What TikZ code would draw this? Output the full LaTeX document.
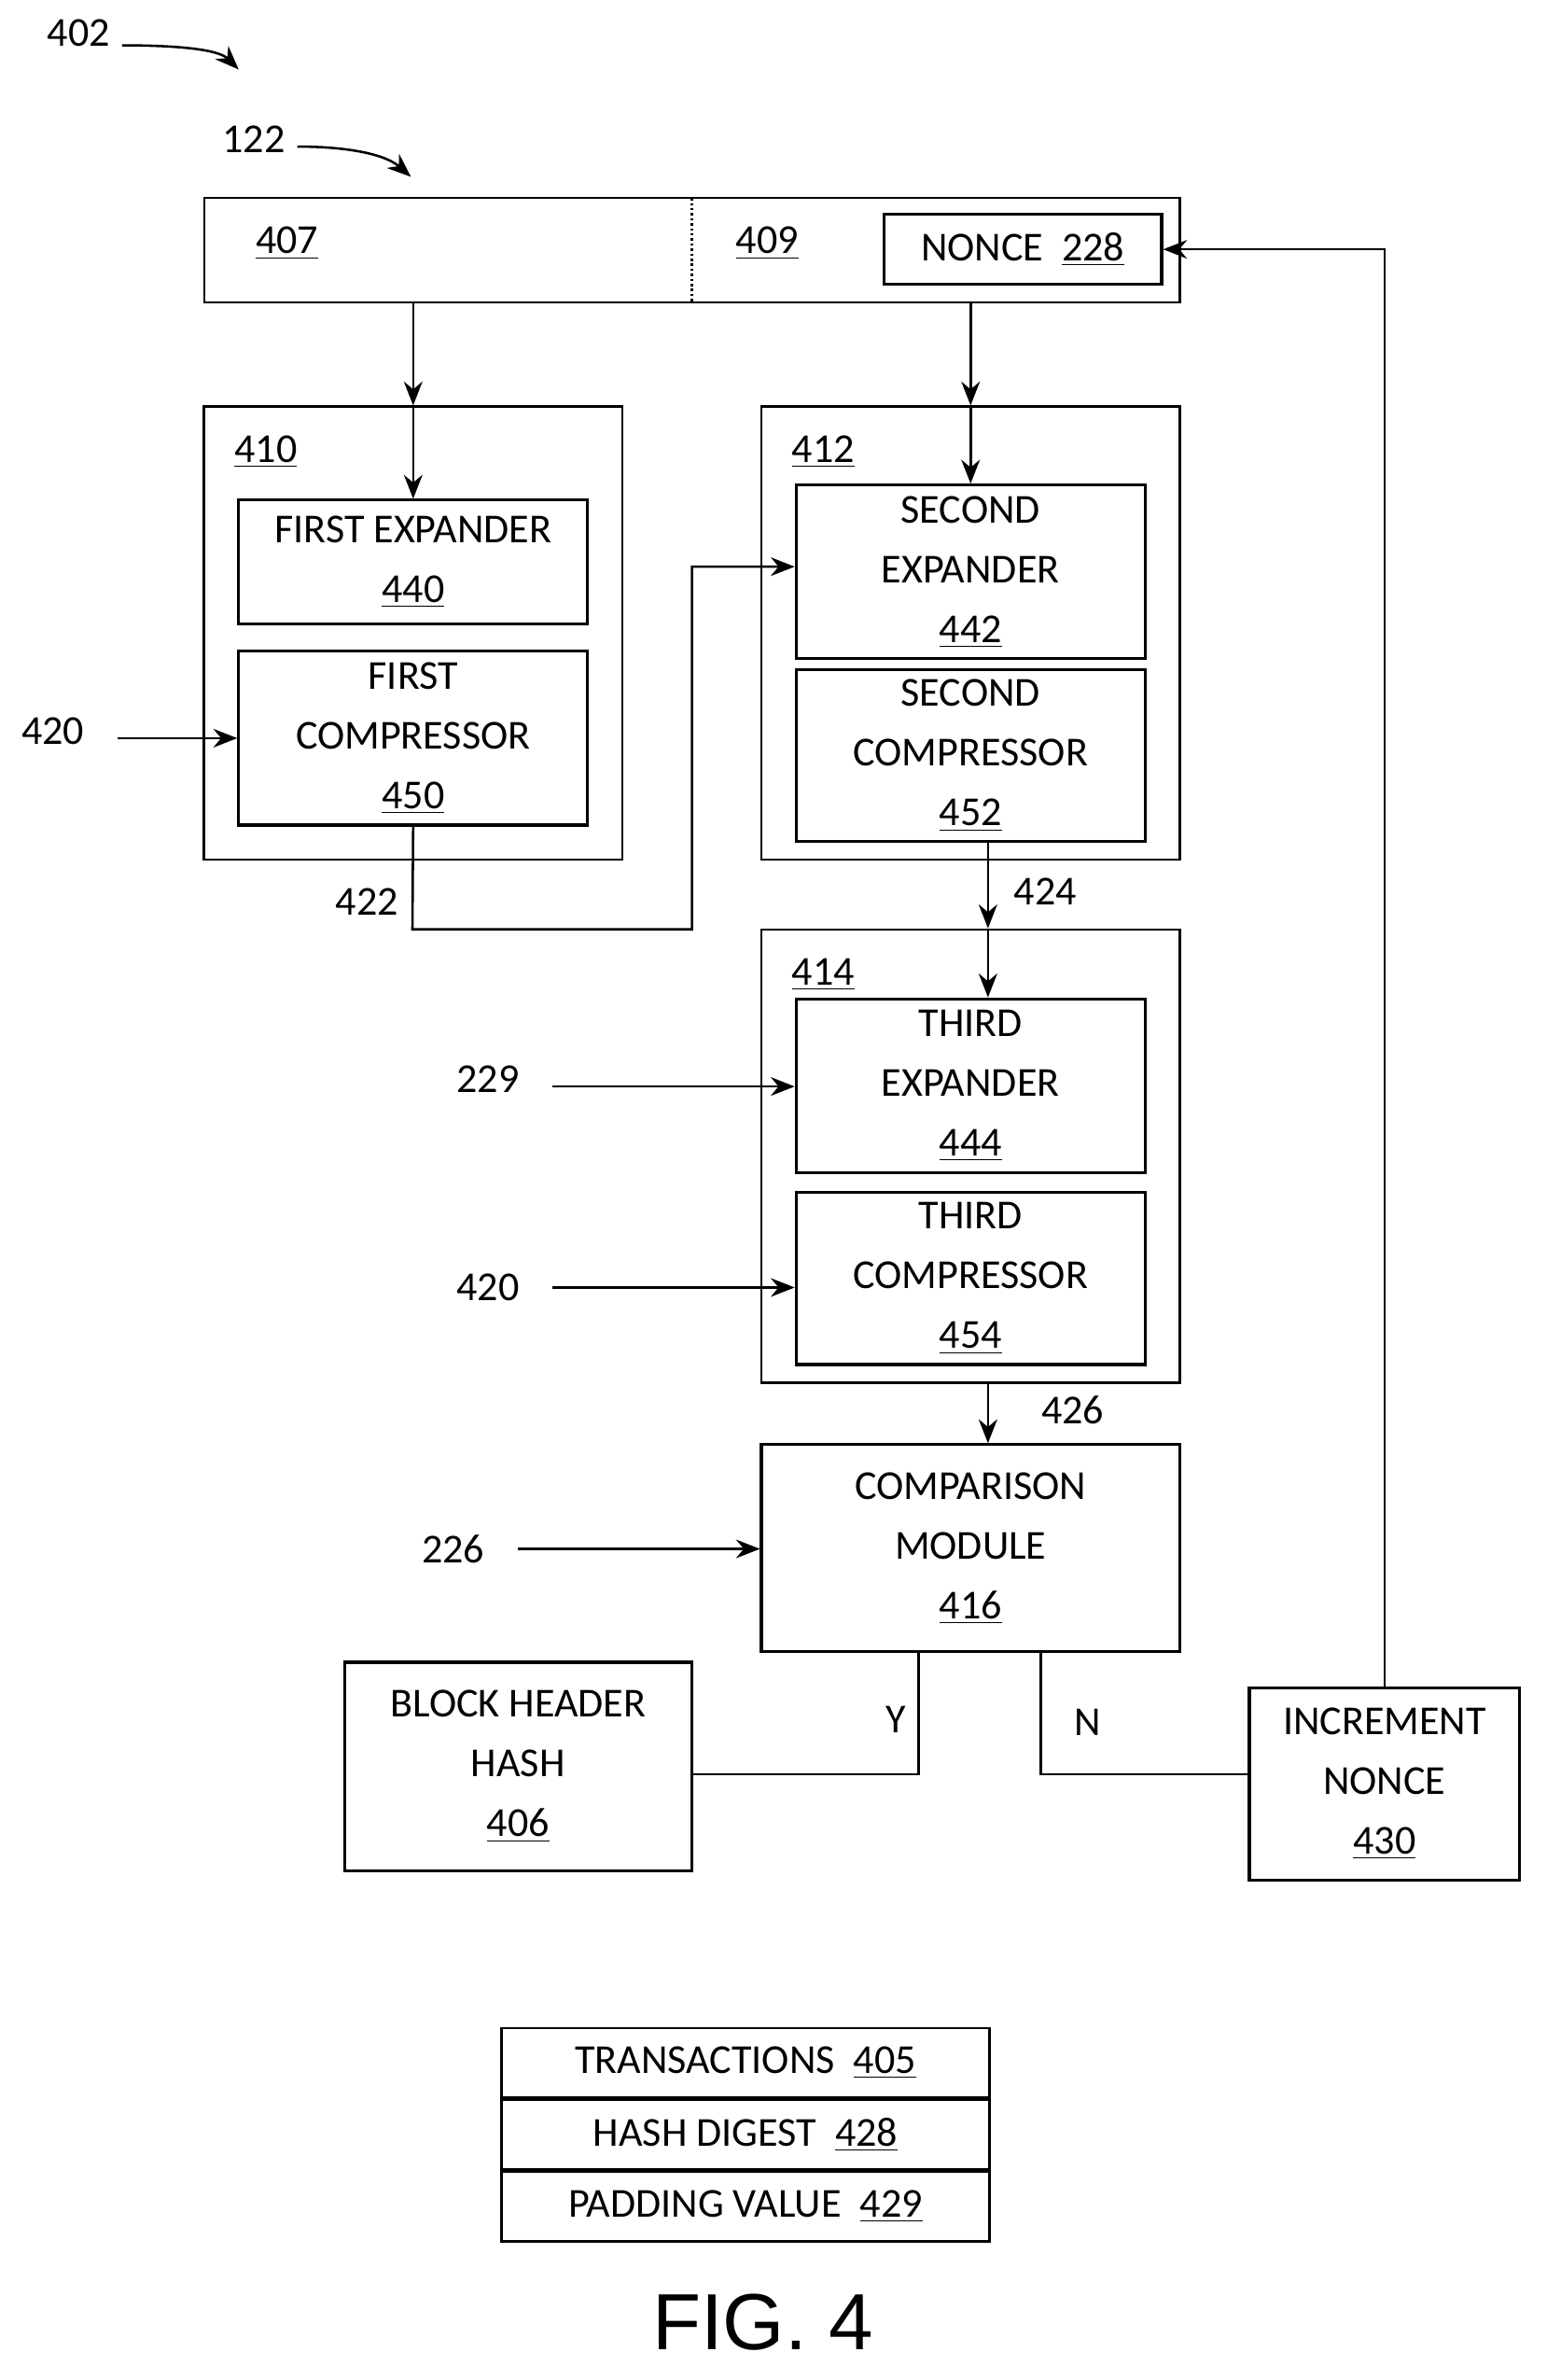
\documentclass[tikz,border=0pt]{standalone}
\usepackage{fontspec}
\setmainfont{Carlito}
\newfontfamily\figfont{Liberation Sans}
\usetikzlibrary{positioning,arrows.meta}

\tikzset{
  lbl/.style={font=\fontsize{15.5}{21}\selectfont, inner sep=1pt},
  inbox/.style={draw, line width=1.1pt, align=center, font=\fontsize{15.5}{22.5}\selectfont, inner sep=0pt},
  outbox/.style={draw, line width=0.8pt, inner sep=0pt},
  arr/.style={-{Stealth[length=9pt,width=7pt]}, line width=0.9pt},
  ln/.style={line width=0.9pt}
}

\begin{document}
\begin{tikzpicture}[x=0.02cm, y=-0.02cm]
\useasboundingbox (0,0) rectangle (1024,1575);

% header
\node (bar) [outbox, minimum width=12.92cm, minimum height=1.38cm] at (458,165.5) {};
\draw[ln, densely dotted] (458,131) -- (458,200);
\node (n407) [lbl] at (190,161) {\underline{407}};
\node (n409) [lbl] at (508,161) {\underline{409}};
\node (nonce) [inbox, minimum width=3.68cm, minimum height=0.92cm] at (677,165) {NONCE\ \ \underline{228}};
\node (n402) [lbl] at (52,22) {402};
\node (n122) [lbl] at (168,92) {122};
\draw[arr] (n402.east) ++(6,8) .. controls (120,30) and (145,33) .. (158,46);
\draw[arr] (n122.east) ++(6,5) .. controls (230,97) and (255,102) .. (272,117);

% first stage
\node (b410) [outbox, minimum width=5.54cm, minimum height=6cm] at (273.5,419) {};
\node (n410) [lbl] at (176,299) {\underline{410}};
\node (fe) [inbox, minimum width=4.62cm, minimum height=1.64cm] at (273.5,372) {FIRST EXPANDER\\\underline{440}};
\node (fc) [inbox, minimum width=4.62cm, minimum height=2.3cm] at (273.5,488.5) {FIRST\\COMPRESSOR\\\underline{450}};

% second stage
\node (b412) [outbox, minimum width=5.54cm, minimum height=6cm] at (642.5,419) {};
\node (n412) [lbl] at (545,299) {\underline{412}};
\node (se) [inbox, minimum width=4.62cm, minimum height=2.3cm] at (642.5,378.5) {SECOND\\EXPANDER\\\underline{442}};
\node (sc) [inbox, minimum width=4.62cm, minimum height=2.28cm] at (642.5,500) {SECOND\\COMPRESSOR\\\underline{452}};

% third stage
\node (b414) [outbox, minimum width=5.54cm, minimum height=6cm] at (642.5,765) {};
\node (n414) [lbl] at (545,645) {\underline{414}};
\node (te) [inbox, minimum width=4.62cm, minimum height=2.3cm] at (642.5,718.5) {THIRD\\EXPANDER\\\underline{444}};
\node (tc) [inbox, minimum width=4.62cm, minimum height=2.28cm] at (642.5,846) {THIRD\\COMPRESSOR\\\underline{454}};

% comparison
\node (cmp) [inbox, minimum width=5.54cm, minimum height=2.74cm] at (642.5,1024.5) {COMPARISON\\MODULE\\\underline{416}};
\node (bhh) [inbox, minimum width=4.6cm, minimum height=2.76cm] at (343,1169) {BLOCK HEADER\\HASH\\\underline{406}};
\node (inc) [inbox, minimum width=3.58cm, minimum height=2.54cm] at (916.5,1180.5) {INCREMENT\\NONCE\\\underline{430}};

% side labels
\node (n420a) [lbl] at (35,484) {420};
\node (n422) [lbl] at (243,597) {422};
\node (n424) [lbl] at (692,590) {424};
\node (n229) [lbl] at (323,714) {229};
\node (n420b) [lbl] at (323,852) {420};
\node (n426) [lbl] at (710,933) {426};
\node (n226) [lbl] at (300,1025) {226};
\node (nY) [lbl] at (593,1138) {Y};
\node (nN) [lbl] at (720,1140) {N};

\coordinate (c424) at (654,557);
\coordinate (c426) at (654,915);
\coordinate (cY) at (608,1093);
\coordinate (cN) at (689,1093);

% connectors
\draw[arr] (fe.north |- bar.south) -- (fe.north |- b410.north);
\draw[arr] (fe.north |- b410.north) -- (fe.north);
\draw[arr] (se.north |- bar.south) -- (se.north |- b412.north);
\draw[arr] (se.north |- b412.north) -- (se.north);
\draw[arr] ([xshift=0.4cm]n420a.east |- fc.west) -- (fc.west);
\draw[arr] (fc.south) -- (273,615) -- (458,615) -- (458,375) -- (se.west |- 0,375);
\draw[arr] (c424) -- (c424 |- b414.north);
\draw[arr] (c424 |- b414.north) -- (c424 |- te.north);
\draw[arr] ([xshift=0.4cm]n229.east |- 0,719) -- (te.west |- 0,719);
\draw[arr] ([xshift=0.4cm]n420b.east) -- (tc.west |- n420b.east);
\draw[arr] (c426) -- (c426 |- cmp.north);
\draw[arr] ([xshift=0.4cm]n226.east) -- (cmp.west |- n226.east);
\draw[ln] (cY) -- (608,1174) -- (bhh.east |- 0,1174);
\draw[ln] (cN) -- (689,1174) -- (inc.west |- 0,1174);
\draw[arr] (inc.north) -- (inc.north |- nonce.east) -- (nonce.east);

% legend
\node (tx) [inbox, line width=0.9pt, minimum width=6.46cm, minimum height=0.92cm] at (493.5,1365) {TRANSACTIONS\ \ \underline{405}};
\node (hd) [inbox, line width=0.9pt, minimum width=6.46cm, minimum height=0.92cm, below=0pt of tx] {HASH DIGEST\ \ \underline{428}};
\node (pv) [inbox, line width=0.9pt, minimum width=6.46cm, minimum height=0.92cm, below=0pt of hd] {PADDING VALUE\ \ \underline{429}};

\node (fig) [font=\figfont\fontsize{30}{34}\selectfont] at (505,1537) {FIG. 4};
\end{tikzpicture}
\end{document}
